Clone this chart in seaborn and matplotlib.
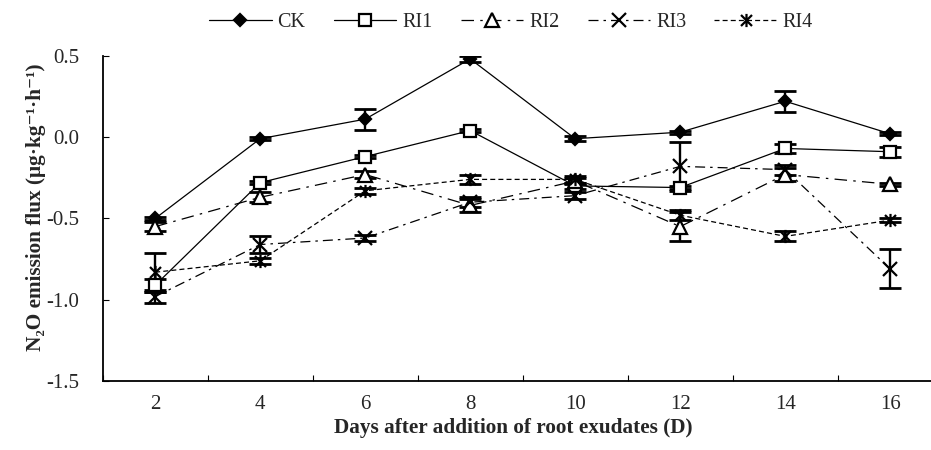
import numpy as np
import pandas as pd
import seaborn as sns
import matplotlib.pyplot as plt
from matplotlib.path import Path

days = [2, 4, 6, 8, 10, 12, 14, 16]
series = ['CK', 'RI1', 'RI2', 'RI3', 'RI4']

ck = [-0.50, -0.01, 0.11, 0.48, -0.01, 0.03, 0.22, 0.02]
ri1 = [-0.91, -0.28, -0.12, 0.04, -0.30, -0.31, -0.07, -0.09]
ri2 = [-0.55, -0.37, -0.23, -0.42, -0.27, -0.55, -0.23, -0.29]
ri3 = [-0.98, -0.66, -0.62, -0.40, -0.36, -0.18, -0.20, -0.81]
ri4 = [-0.83, -0.76, -0.33, -0.26, -0.26, -0.48, -0.61, -0.51]

ck_err = [0.01, 0.01, 0.065, 0.02, 0.015, 0.01, 0.065, 0.01]
ri1_err = [0.04, 0.01, 0.01, 0.01, 0.02, 0.01, 0.03, 0.03]
ri2_err = [0.03, 0.03, 0.02, 0.04, 0.02, 0.09, 0.04, 0.01]
ri3_err = [0.04, 0.05, 0.02, 0.03, 0.02, 0.15, 0.03, 0.12]
ri4_err = [0.12, 0.02, 0.02, 0.03, 0.02, 0.03, 0.03, 0.01]

yticks = [-1.5, -1.0, -0.5, 0.0, 0.5]
ytick_labels = ['-1.5', '-1.0', '-0.5', '0.0', '0.5']

sns.set_theme(style='white')
plt.rcParams['font.family'] = ['Liberation Serif', 'DejaVu Serif']

# asterisk marker: an X with a vertical bar
star = Path(
    [(-1, -1), (1, 1), (-1, 1), (1, -1), (0, -1.2), (0, 1.2)],
    [Path.MOVETO, Path.LINETO, Path.MOVETO, Path.LINETO, Path.MOVETO, Path.LINETO]
)

styles = {
    'CK':  dict(marker='D', ms=6.5, mfc='black', ls='-'),
    'RI1': dict(marker='s', ms=9, mfc='white', ls='-'),
    'RI2': dict(marker='^', ms=9.5, mfc='white', ls=(0, (10, 5, 2, 5))),
    'RI3': dict(marker='x', ms=9.5, mfc='white', ls=(0, (8, 4, 2, 4))),
    'RI4': dict(marker=star, ms=9.5, mfc='white', ls=(0, (4, 2.5))),
}

values = {'CK': ck, 'RI1': ri1, 'RI2': ri2, 'RI3': ri3, 'RI4': ri4}
errors = {'CK': ck_err, 'RI1': ri1_err, 'RI2': ri2_err, 'RI3': ri3_err, 'RI4': ri4_err}

pos = np.arange(len(days))

fig = plt.figure(figsize=(9.31, 4.5), dpi=100)
ax = fig.add_axes([0.1103, 0.1527, 0.9023, 0.7236])

for name in series:
    st = styles[name]
    df = pd.DataFrame({'pos': pos, 'flux': values[name]})
    ax.errorbar(pos, values[name], yerr=errors[name], fmt='none',
                ecolor='black', elinewidth=1.7, capsize=8, capthick=2, zorder=2)
    sns.lineplot(data=df, x='pos', y='flux', ax=ax, color='black',
                 linewidth=0.9, linestyle=st['ls'], marker=st['marker'],
                 markersize=st['ms'], markerfacecolor=st['mfc'],
                 markeredgecolor='black', markeredgewidth=1.6,
                 label=name, zorder=3)

ax.set_xlim(-0.5, 7.5)
ax.set_ylim(-1.5, 0.5)
ax.set_xticks(pos)
ax.set_xticklabels([str(d) for d in days], fontsize=15)
ax.set_xticks(np.arange(-0.5, 7.6, 1), minor=True)
ax.set_yticks(yticks)
ax.set_yticklabels(ytick_labels, fontsize=15)
ax.tick_params(axis='x', which='major', length=0, pad=10)
ax.tick_params(axis='x', which='minor', direction='in', length=4,
               width=0.8, color='black', bottom=True)
ax.tick_params(axis='y', direction='in', length=4, width=0.8,
               color='black', left=True, pad=17)

for s in ['top', 'right']:
    ax.spines[s].set_visible(False)
for s in ['left', 'bottom']:
    ax.spines[s].set_color('black')
    ax.spines[s].set_linewidth(1.3)

ax.set_xlabel('Days after addition of root exudates (D)', fontsize=15.3,
              fontweight='bold', va='top')
ax.xaxis.set_label_coords(0.4885, -0.112)
ax.set_ylabel('N₂O emission flux (μg·kg⁻¹·h⁻¹)', fontsize=15.3, fontweight='bold')
ax.yaxis.set_label_coords(-0.068, 0.536)

ax.legend_.remove()
handles, labels = ax.get_legend_handles_labels()
fig.legend(handles, labels, loc='center', bbox_to_anchor=(0.549, 0.949),
           ncol=5, frameon=False, fontsize=14.5, handlelength=3.1,
           handletextpad=0.3, columnspacing=1.4)

fig.savefig('out.png', dpi=100)
